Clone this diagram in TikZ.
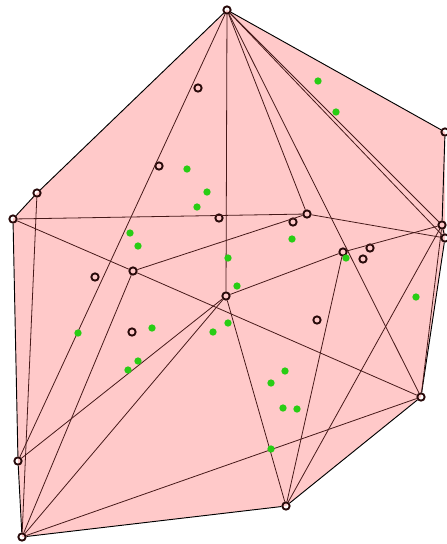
\documentclass[tikz,border=0pt]{standalone}
\definecolor{hullpink}{RGB}{255,201,201}
\definecolor{edgedark}{RGB}{70,25,25}
\definecolor{ringdark}{RGB}{40,10,10}
\definecolor{dotgreen}{RGB}{40,205,20}
\begin{document}
\begin{tikzpicture}[
  x=0.75pt, y=-0.75pt,
  vertex/.style={circle, draw=ringdark, line width=1.4pt, inner sep=0pt, minimum size=5.5pt},
  sample/.style={circle, fill=dotgreen, draw=none, inner sep=0pt, minimum size=5.5pt},
  edge/.style={draw=edgedark, line width=0.6pt},
  hull/.style={draw=black, line width=0.7pt}
]
  \useasboundingbox (0,0) rectangle (447,544);

  % Fill of the hull
  \fill[hullpink] (227,10) -- (445,132) -- (445,238) -- (421,397) -- (286,506)
    -- (22,537) -- (18,461) -- (13,219) -- (37,193) -- cycle;

  % Vertices
  \node[vertex] (top) at (227,10) {};
  \node[vertex] (rtop) at (445,132) {};
  \node[vertex] (rmid) at (442,225) {};
  \node[vertex] (rlow) at (445,238) {};
  \node[vertex] (bright) at (421,397) {};
  \node[vertex] (bot) at (286,506) {};
  \node[vertex] (bleft) at (22,537) {};
  \node[vertex] (lowleft) at (18,461) {};
  \node[vertex] (left) at (13,219) {};
  \node[vertex] (upleft) at (37,193) {};
  \node[vertex] (mleft) at (133,271) {};
  \node[vertex] (centre) at (226,296) {};
  \node[vertex] (pivot) at (307,214) {};
  \node[vertex] (hub) at (343,252) {};

  % Loose samples
  \node[vertex] (s1) at (198,88) {};
  \node[vertex] (s2) at (159,166) {};
  \node[vertex] (s3) at (219,218) {};
  \node[vertex] (s4) at (293,222) {};
  \node[vertex] (s5) at (370,248) {};
  \node[vertex] (s6) at (363,259) {};
  \node[vertex] (s7) at (95,277) {};
  \node[vertex] (s8) at (132,332) {};
  \node[vertex] (s9) at (317,320) {};

  % Hull
  \draw[hull] (top) -- (rtop) -- (rmid) -- (rlow) -- (bright) -- (bot) -- (bleft)
    -- (lowleft) -- (left) -- (upleft) -- (top);

  % Inner edges
  \draw[edge] (top) -- (centre);
  \draw[edge] (top) -- (lowleft);
  \draw[edge] (top) -- (pivot);
  \draw[edge] (top) -- (bright);
  \draw[edge] (top) -- (rmid);
  \draw[edge] (top) -- (rlow);
  \draw[edge] (left) -- (pivot);
  \draw[edge] (pivot) -- (rlow);
  \draw[edge] (left) -- (mleft) -- (bright);
  \draw[edge] (upleft) -- (bleft);
  \draw[edge] (bleft) -- (mleft);
  \draw[edge] (bleft) -- (centre);
  \draw[edge] (bleft) -- (bright);
  \draw[edge] (lowleft) -- (centre);
  \draw[edge] (mleft) -- (pivot);
  \draw[edge] (centre) -- (hub) -- (rmid);
  \draw[edge] (bot) -- (centre);
  \draw[edge] (bot) -- (hub);
  \draw[edge] (bot) -- (rmid);
  \draw[edge] (bright) -- (rmid);

  % Green points
  \foreach \px/\py [count=\i] in {318/81, 336/112, 187/169, 207/192, 197/207,
      130/233, 138/246, 228/258, 292/239, 346/258, 237/286, 416/297, 78/333,
      152/328, 213/332, 228/323, 138/361, 128/370, 285/371, 271/383, 283/408,
      297/409, 271/449}
    \node[sample] (g\i) at (\px,\py) {};

\end{tikzpicture}
\end{document}
